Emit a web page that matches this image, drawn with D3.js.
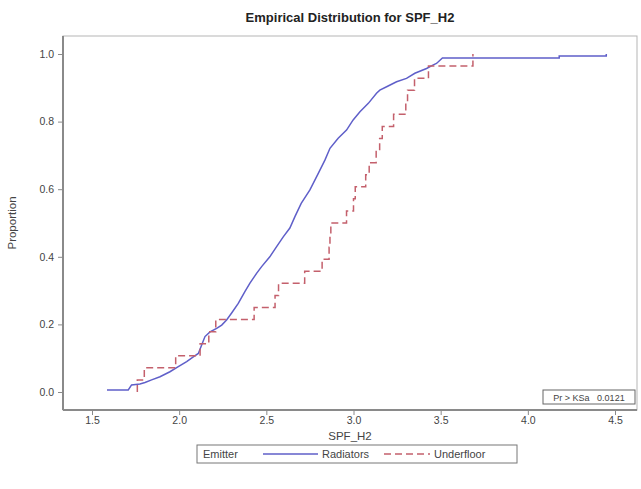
<!DOCTYPE html>
<html>
<head>
<meta charset="utf-8">
<script src="https://cdn.jsdelivr.net/npm/d3@7"></script>
<style>
  html, body { margin: 0; padding: 0; background: #fff; }
  svg text { font-family: "Liberation Sans", Arial, sans-serif; }
</style>
</head>
<body>
<svg id="chart" width="641" height="489"></svg>
<script>
// ---- Data ----
// Radiators: points on the empirical CDF (SPF_H2 value, cumulative proportion)
const radiatorsX = [1.586, 1.708, 1.727, 1.775, 1.804, 1.842, 1.89, 1.947, 1.995, 2.043, 2.081, 2.11, 2.129, 2.148, 2.177, 2.215, 2.244, 2.272, 2.30, 2.339, 2.377, 2.406, 2.444, 2.473, 2.52, 2.559, 2.597, 2.635, 2.664, 2.70, 2.75, 2.798, 2.836, 2.865, 2.912, 2.96, 2.998, 3.037, 3.085, 3.132, 3.151, 3.19, 3.247, 3.304, 3.352, 3.419, 3.455, 3.476, 3.51, 4.18, 4.18, 4.45, 4.45];
const radiatorsP = [0.006, 0.006, 0.021, 0.024, 0.028, 0.036, 0.045, 0.06, 0.075, 0.09, 0.104, 0.114, 0.139, 0.164, 0.178, 0.188, 0.198, 0.213, 0.233, 0.262, 0.297, 0.322, 0.351, 0.371, 0.40, 0.43, 0.459, 0.485, 0.519, 0.558, 0.598, 0.647, 0.686, 0.721, 0.751, 0.775, 0.805, 0.829, 0.854, 0.884, 0.893, 0.903, 0.918, 0.928, 0.943, 0.957, 0.967, 0.972, 0.988, 0.988, 0.994, 0.994, 1.0];
// Underfloor: sorted sample values (n = 28), drawn as a step ECDF
const underfloorValues = [1.76, 1.80, 1.98, 2.12, 2.17, 2.21, 2.43, 2.55, 2.57, 2.72, 2.82, 2.86, 2.865, 2.87, 2.96, 3.00, 3.01, 3.07, 3.09, 3.13, 3.15, 3.165, 3.23, 3.30, 3.31, 3.35, 3.43, 3.685];
const xTicks = [1.5, 2.0, 2.5, 3.0, 3.5, 4.0, 4.5];
const yTicks = [0.0, 0.2, 0.4, 0.6, 0.8, 1.0];
const seriesNames = ["Radiators", "Underfloor"];
const titleText = "Empirical Distribution for SPF_H2";
const insetText = "Pr > KSa   0.0121";

// ---- Layout ----
const svg = d3.select("#chart");
const frame = { left: 63, right: 637, top: 36, bottom: 410 };
const x = d3.scaleLinear().domain([1.5, 4.5]).range([92, 615]);
const y = d3.scaleLinear().domain([0, 1]).range([392, 54]);
const radColor = "#5f5fc9";
const undColor = "#c4606c";
const axisColor = "#8a8a8a";
const textColor = "#444";

// Title
svg.append("text").attr("x", 350).attr("y", 22).attr("text-anchor", "middle")
  .attr("font-size", 13).attr("font-weight", "bold").attr("fill", "#222").text(titleText);

// Frame
svg.append("rect").attr("x", frame.left).attr("y", frame.top)
  .attr("width", frame.right - frame.left).attr("height", frame.bottom - frame.top)
  .attr("fill", "none").attr("stroke", "#b5b5b5").attr("stroke-width", 1);

// Axes
const xAxis = d3.axisBottom(x).tickValues(xTicks).tickFormat(d3.format(".1f")).tickSize(5).tickPadding(2);
const gx = svg.append("g").attr("transform", `translate(0,${frame.bottom})`).call(xAxis);
gx.select(".domain").attr("d", `M${frame.left},0H${frame.right}`).attr("stroke", axisColor).attr("stroke-width", 2);
gx.selectAll(".tick line").attr("stroke", axisColor);
gx.selectAll(".tick text").attr("font-size", 10.5).attr("fill", textColor).attr("font-family", "Liberation Sans, Arial, sans-serif");

const yAxis = d3.axisLeft(y).tickValues(yTicks).tickFormat(d3.format(".1f")).tickSize(5).tickPadding(4);
const gy = svg.append("g").attr("transform", `translate(${frame.left},0)`).call(yAxis);
gy.select(".domain").attr("d", `M0,${frame.top}V${frame.bottom}`).attr("stroke", axisColor).attr("stroke-width", 2);
gy.selectAll(".tick line").attr("stroke", axisColor);
gy.selectAll(".tick text").attr("font-size", 10.5).attr("fill", textColor).attr("font-family", "Liberation Sans, Arial, sans-serif");

// Axis labels
svg.append("text").attr("x", 350).attr("y", 440).attr("text-anchor", "middle")
  .attr("font-size", 11.5).attr("fill", textColor).text("SPF_H2");
svg.append("text").attr("transform", `translate(16,${(frame.top + frame.bottom) / 2}) rotate(-90)`)
  .attr("text-anchor", "middle").attr("font-size", 11.5).attr("fill", textColor).text("Proportion");

// Radiators curve
const radPts = radiatorsX.map((v, i) => [v, radiatorsP[i]]);
const lineLin = d3.line().x(d => x(d[0])).y(d => y(d[1]));
svg.append("path").datum(radPts).attr("d", lineLin)
  .attr("fill", "none").attr("stroke", radColor).attr("stroke-width", 1.5);

// Underfloor step ECDF
const n = underfloorValues.length;
const undPts = [[underfloorValues[0], 0]];
underfloorValues.forEach((v, i) => undPts.push([v, (i + 1) / n]));
const lineStep = d3.line().x(d => x(d[0])).y(d => y(d[1])).curve(d3.curveStepAfter);
svg.append("path").datum(undPts).attr("d", lineStep)
  .attr("fill", "none").attr("stroke", undColor).attr("stroke-width", 1.5)
  .attr("stroke-dasharray", "7,4");

// Inset
const inset = svg.append("g");
inset.append("rect").attr("x", 543).attr("y", 390).attr("width", 92).attr("height", 14)
  .attr("fill", "#fff").attr("stroke", "#666").attr("stroke-width", 1);
inset.append("text").attr("x", 589).attr("y", 401).attr("text-anchor", "middle")
  .attr("font-size", 9).attr("fill", textColor).attr("xml:space", "preserve").text(insetText);

// Legend
const lg = svg.append("g");
lg.append("rect").attr("x", 197).attr("y", 445).attr("width", 320).attr("height", 18)
  .attr("fill", "#fff").attr("stroke", "#777").attr("stroke-width", 1);
lg.append("text").attr("x", 203).attr("y", 458).attr("font-size", 11).attr("fill", textColor).text("Emitter");
lg.append("line").attr("x1", 263).attr("x2", 318).attr("y1", 454).attr("y2", 454)
  .attr("stroke", radColor).attr("stroke-width", 1.5);
lg.append("text").attr("x", 322).attr("y", 458).attr("font-size", 11).attr("fill", textColor).text(seriesNames[0]);
lg.append("line").attr("x1", 384).attr("x2", 430).attr("y1", 454).attr("y2", 454)
  .attr("stroke", undColor).attr("stroke-width", 1.5).attr("stroke-dasharray", "7,4");
lg.append("text").attr("x", 434).attr("y", 458).attr("font-size", 11).attr("fill", textColor).text(seriesNames[1]);
</script>
</body>
</html>
